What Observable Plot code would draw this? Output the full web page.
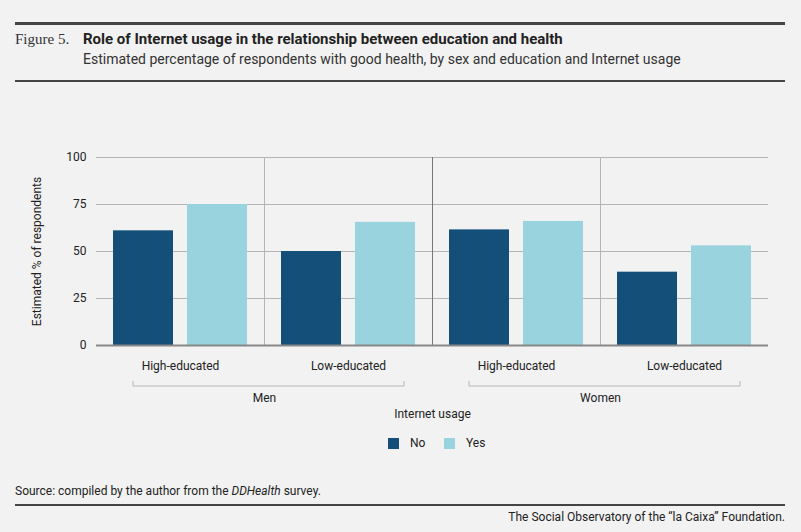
<!DOCTYPE html>
<html><head><meta charset="utf-8">
<script src="https://cdn.jsdelivr.net/npm/d3@7"></script>
<script src="https://cdn.jsdelivr.net/npm/@observablehq/plot@0.6"></script>
<style>
body{margin:0;background:#f2f2f2;font-family:Roboto,"Liberation Sans",sans-serif;color:#222;}
#wrap{position:relative;width:801px;height:532px;}
.abs{position:absolute;white-space:nowrap;}
.rule{position:absolute;left:15px;width:770px;background:#444;}
</style></head><body><div id="wrap">
<div class="rule" style="top:22px;height:3px"></div>
<div class="abs" style="left:15px;top:31px;font-family:'Liberation Serif',serif;font-size:15px;color:#333">Figure 5.</div>
<div class="abs" style="left:83px;top:30px;font-size:15px;font-weight:bold;color:#222">Role of Internet usage in the relationship between education and health</div>
<div class="abs" style="left:83px;top:51px;font-size:14px;color:#333">Estimated percentage of respondents with good health, by sex and education and Internet usage</div>
<div class="rule" style="top:80px;height:2px"></div>
<div id="chart" class="abs" style="left:0;top:140px"></div>
<div class="abs" style="left:388px;top:438px;width:11px;height:11px;background:#134f78"></div>
<div class="abs" style="left:410px;top:436px;font-size:12px">No</div>
<div class="abs" style="left:444px;top:438px;width:11px;height:11px;background:#99d3de"></div>
<div class="abs" style="left:466px;top:436px;font-size:12px">Yes</div>
<div class="abs" style="left:15px;top:484px;font-size:12px">Source: compiled by the author from the <i>DDHealth</i> survey.</div>
<div class="rule" style="top:504px;height:2px"></div>
<div class="abs" style="right:16px;top:510px;font-size:12px">The Social Observatory of the “la Caixa” Foundation.</div>
</div>
<script>
const sexes = ["Men","Women"];
const educations = ["High-educated","Low-educated"];
const usage = ["No","Yes"];
const valuesNo = [61, 50, 61.5, 39];
const valuesYes = [75, 65.5, 66, 53];
const colors = ["#134f78","#99d3de"];

const groups = [];
sexes.forEach(s=>educations.forEach(e=>groups.push({key:s+"|"+e, sex:s, edu:e})));
const data = [];
groups.forEach((g,i)=>{
  data.push({key:g.key, usage:"No", value:valuesNo[i]});
  data.push({key:g.key, usage:"Yes", value:valuesYes[i]});
});
const keys = groups.map(g=>g.key);
const W=801, mL=96, mR=33;
const bw=(W-mL-mR)/keys.length;
const barW=60, gap=14;
const outer=(bw-2*barW-gap)/2;
const sexFirst = sexes.map(s=>({sex:s, key:s+"|"+educations[0]}));
const dividers = keys.slice(1).map((k,i)=>({key:k, strong: i===1}));

const plot = Plot.plot({
  width:W, height:290, marginLeft:mL, marginRight:mR, marginTop:17, marginBottom:85,
  style:{background:"transparent", fontFamily:"Roboto, 'Liberation Sans', sans-serif", fontSize:"12px", color:"#222", overflow:"visible"},
  x:{domain:keys, padding:0, axis:null},
  y:{domain:[0,100], ticks:[0,25,50,75,100], label:null},
  marks:[
    Plot.ruleY([25,50,75,100],{stroke:"#b5b5b5"}),
    Plot.ruleX(dividers,{x:"key", dx:-bw/2, stroke:d=>d.strong?"#777":"#b5b5b5"}),
    Plot.barY(data.filter(d=>d.usage==="No"),{x:"key", y:"value", fill:colors[0], insetLeft:outer, insetRight:outer+barW+gap}),
    Plot.barY(data.filter(d=>d.usage==="Yes"),{x:"key", y:"value", fill:colors[1], insetLeft:outer+barW+gap, insetRight:outer}),
    Plot.ruleY([0],{stroke:"#888", strokeWidth:2}),
    Plot.axisY({ticks:[0,25,50,75,100], tickSize:0, tickPadding:10, label:null, fontSize:12}),
    Plot.text(groups,{x:"key", text:"edu", frameAnchor:"bottom", dy:24, fontSize:12}),
    Plot.text(sexFirst,{x:"key", text:"sex", dx:bw/2, frameAnchor:"bottom", dy:56, fontSize:12}),
    Plot.text(["Internet usage"],{text:d=>d, frameAnchor:"bottom", dy:72, fontSize:12}),
    Plot.text(["Estimated % of respondents"],{text:d=>d, frameAnchor:"left", textAnchor:"middle", dx:-59, rotate:-90, fontSize:12})
  ]
});
document.getElementById("chart").appendChild(plot);
// brackets
const xs = plot.scale("x");
const svg = d3.select(plot);
sexes.forEach(s=>{
  const x1 = xs.apply(s+"|"+educations[0]) + bw/2 - 47;
  const x2 = xs.apply(s+"|"+educations[1]) + bw/2 + 56;
  const y = 246, h=5;
  svg.append("path").attr("d",`M${x1},${y-h}V${y}H${x2}V${y-h}`).attr("fill","none").attr("stroke","#b5b5b5");
});
</script></body></html>
